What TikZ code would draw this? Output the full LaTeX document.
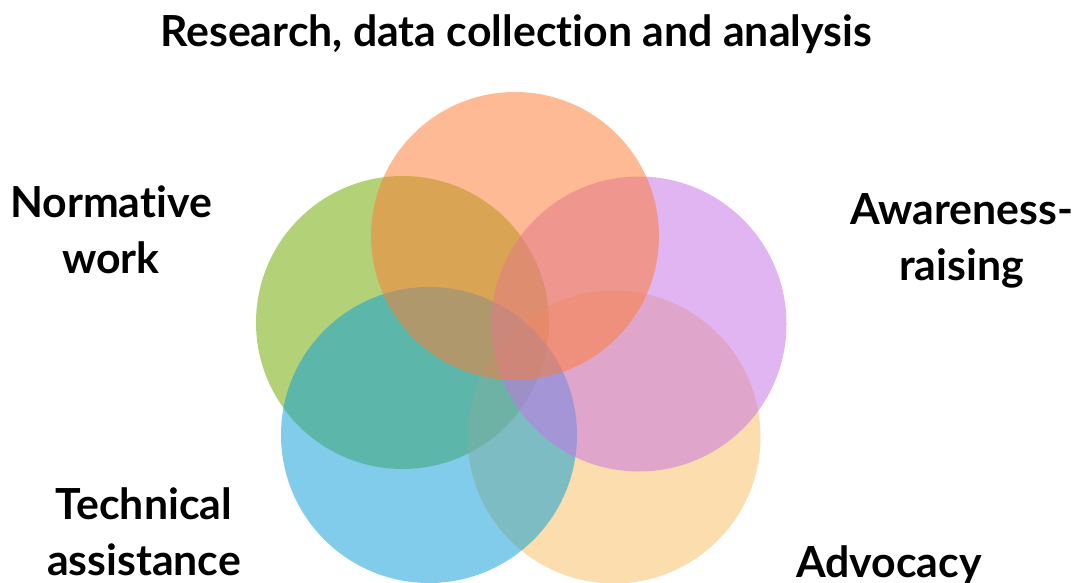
\documentclass[tikz,border=0pt]{standalone}
\usepackage{fontspec}
\setmainfont{Lato}[Ligatures={NoCommon}]
\begin{document}
\begin{tikzpicture}[x=1pt,y=-1pt,
  lbl/.style={font=\fontsize{42.8}{56}\selectfont\bfseries, align=center, inner sep=0pt, text=black, anchor=base},
  petal/.style={circle, draw=none, inner sep=0pt, fill opacity=0.53}]
\definecolor{cgreen}{RGB}{112,170,0}
\definecolor{cyellow}{RGB}{249,191,100}
\definecolor{cblue}{RGB}{15,159,215}
\definecolor{cpurple}{RGB}{199,116,231}
\definecolor{corange}{RGB}{251,125,53}
\useasboundingbox (0,0) rectangle (1076,583);
% overlapping circles, back to front
\node[petal, fill=cgreen,  minimum size=293pt] (normative) at (402.5,322.5) {};
\node[petal, fill=cyellow, minimum size=293pt] (advocacy)  at (614,437) {};
\node[petal, fill=cblue,   minimum size=296pt] (technical) at (429,435) {};
\node[petal, fill=cpurple, minimum size=295pt] (awareness) at (639,324) {};
\node[petal, fill=corange, minimum size=288pt] (research)  at (515,236) {};
% labels (base anchor = baseline of the last line)
\node[lbl] (tresearch)  at (516,47)    {Research, data collection and analysis};
\node[lbl] (tnormative) at (111,273)   {Normative\\work};
\node[lbl] (tawareness) at (961.5,280) {Awareness-\\raising};
\node[lbl] (ttechnical) at (144,575)   {Technical\\assistance};
\node[lbl] (tadvocacy)  at (889,577)   {Advocacy};
\end{tikzpicture}
\end{document}
